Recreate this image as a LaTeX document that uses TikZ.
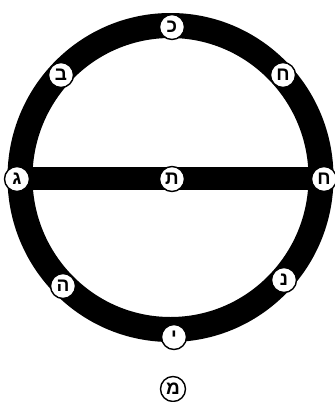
\documentclass[tikz,border=0pt]{standalone}
\usepackage{fontspec}
\newfontfamily\hebfont[Script=Hebrew]{Liberation Sans}
\TeXXeTstate=1
\tikzset{
  letter/.style={circle,draw=black,line width=1.4pt,fill=white,minimum size=25pt,inner sep=0pt,
    font=\hebfont\bfseries\fontsize{19pt}{19pt}\selectfont},
  ring/.style={draw=black,line width=25pt},
  bar/.style={draw=black,line width=23pt}
}
\begin{document}
\begin{tikzpicture}[x=1pt,y=-1pt]
\useasboundingbox (0,0) rectangle (335,402);
\coordinate (c) at (170.5,177.5);
\draw[ring] (c) ellipse [x radius=150.5, y radius=152];
\coordinate (bl) at (17,178.5);
\coordinate (br) at (325,178.5);
\draw[bar] (bl) -- (br);
\node[letter] (top) at (172,27) {\beginR כ\endR};
\node[letter] (tl) at (61,75) {\beginR ב\endR};
\node[letter] (tr) at (283,75) {\beginR ח\endR};
\node[letter] (l) at (17,179) {\beginR ג\endR};
\node[letter] (m) at (172,179) {\beginR ת\endR};
\node[letter] (r) at (324,179) {\beginR ח\endR};
\node[letter] (blt) at (63,286) {\beginR ה\endR};
\node[letter] (brt) at (284,280) {\beginR נ\endR};
\node[letter] (bot) at (174,337) {\beginR י\endR};
\node[letter] (mem) at (173,389) {\beginR מ\endR};
\end{tikzpicture}
\end{document}
